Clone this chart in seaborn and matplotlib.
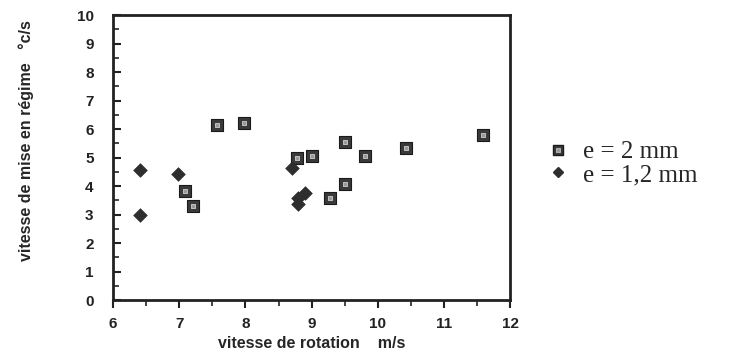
import numpy as np
import pandas as pd
import matplotlib.pyplot as plt
import seaborn as sns
from matplotlib.ticker import MultipleLocator
from matplotlib.lines import Line2D

# e = 2 mm (squares)
x_2mm = [7.57, 7.98, 7.09, 7.21, 8.78, 9.00, 9.50, 9.50, 9.28, 9.80, 10.43, 11.58]
y_2mm = [6.14, 6.22, 3.82, 3.31, 4.97, 5.04, 5.56, 4.09, 3.58, 5.06, 5.33, 5.81]

# e = 1,2 mm (diamonds)
x_12mm = [6.41, 6.41, 6.98, 8.70, 8.79, 8.79, 8.90]
y_12mm = [4.57, 2.98, 4.41, 4.64, 3.57, 3.37, 3.77]

labels = ["e = 2 mm", "e = 1,2 mm"]

sns.set_style("ticks")
plt.rcParams["font.family"] = ["Liberation Sans", "DejaVu Sans"]

fig = plt.figure(figsize=(7.31, 3.59), dpi=100)
ax = fig.add_axes([0.1546, 0.164, 0.5435, 0.794])

d2 = pd.DataFrame({"x": x_2mm, "y": y_2mm})
d12 = pd.DataFrame({"x": x_12mm, "y": y_12mm})

# squares: dark outer square with a light centre
sns.scatterplot(data=d2, x="x", y="y", marker="s", s=70, color="#3a3a3a",
                edgecolor="#1a1a1a", linewidth=0.8, ax=ax, zorder=3)
sns.scatterplot(data=d2, x="x", y="y", marker="s", s=12, color="#9a9a9a",
                edgecolor="#cfcfcf", linewidth=0.6, ax=ax, zorder=4)
sns.scatterplot(data=d12, x="x", y="y", marker="D", s=48, color="#2e2e2e",
                edgecolor="#2e2e2e", linewidth=0.5, ax=ax, zorder=3)

ax.set_xlim(6, 12)
ax.set_ylim(0, 10)
ax.xaxis.set_major_locator(MultipleLocator(1))
ax.xaxis.set_minor_locator(MultipleLocator(0.5))
ax.yaxis.set_major_locator(MultipleLocator(1))
ax.yaxis.set_minor_locator(MultipleLocator(0.5))
ax.tick_params(axis="x", which="major", direction="out", length=6, width=1.5, pad=6)
ax.tick_params(axis="x", which="minor", direction="out", length=4, width=1.2)
ax.tick_params(axis="y", which="major", direction="in", length=6, width=1.5, pad=14)
ax.tick_params(axis="y", which="minor", direction="in", length=4, width=1.2)
ax.tick_params(labelsize=11, colors="#222222")
for lab in ax.get_xticklabels() + ax.get_yticklabels():
    lab.set_fontweight("bold")

for side in ["left", "right", "top", "bottom"]:
    ax.spines[side].set_visible(True)
    ax.spines[side].set_linewidth(2.0)
    ax.spines[side].set_color("#222222")

ax.set_xlabel("vitesse de rotation    m/s", fontsize=11.5, fontweight="bold")
ax.set_ylabel("vitesse de mise en régime   °c/s", fontsize=11.5, fontweight="bold")
ax.xaxis.set_label_coords(0.5, -0.125)
ax.yaxis.set_label_coords(-0.20, 0.56)

# legend
h_out = Line2D([], [], linestyle="", marker="s", markersize=7, color="#3a3a3a",
               markeredgecolor="#1a1a1a")
h_in = Line2D([], [], linestyle="", marker="s", markersize=3, color="#9a9a9a",
              markeredgecolor="#cfcfcf", markeredgewidth=0.5)
h_d = Line2D([], [], linestyle="", marker="D", markersize=5, color="#2e2e2e")
fig.legend([(h_out, h_in), h_d], labels, loc="upper left",
           bbox_to_anchor=(0.715, 0.67), frameon=False,
           prop={"family": "Liberation Serif", "size": 18},
           handletextpad=0.5, labelspacing=0.0, handlelength=1.0)

fig.savefig("out.png", dpi=100)
